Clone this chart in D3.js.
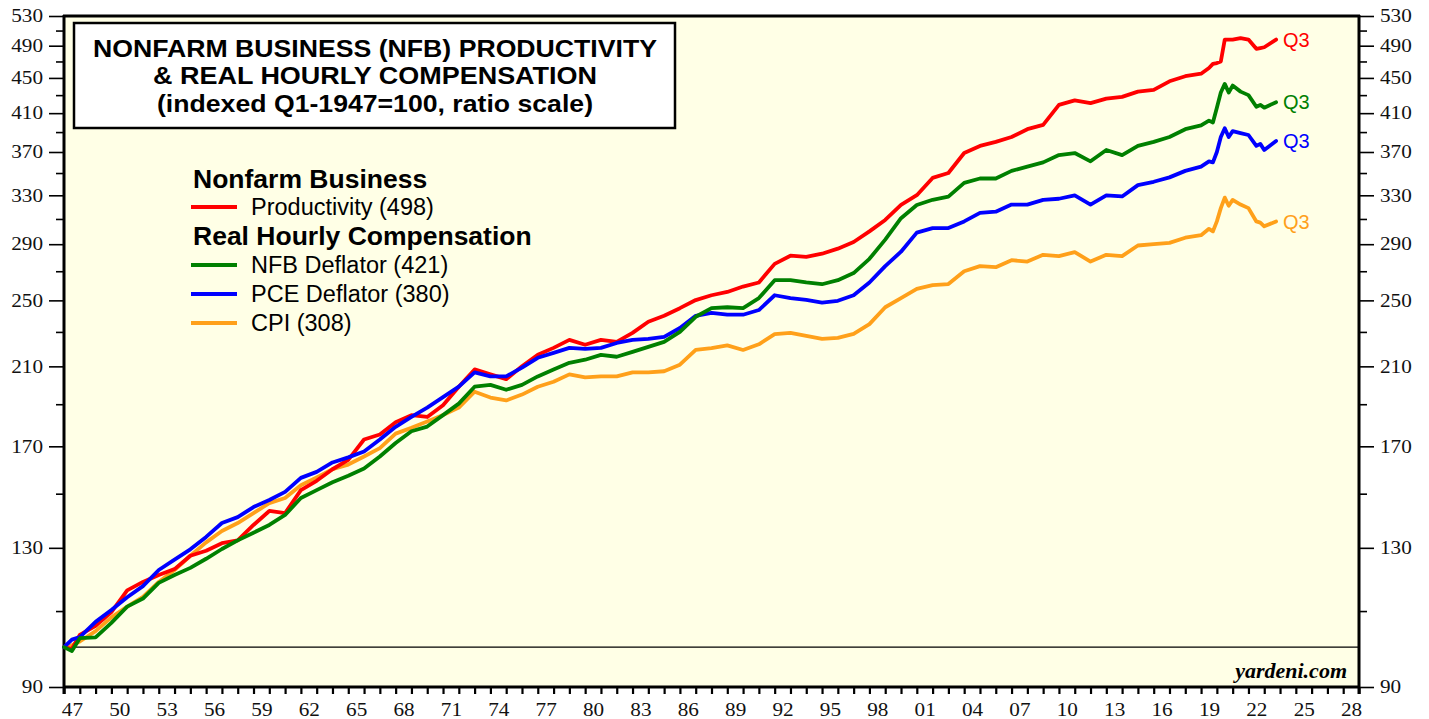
<!DOCTYPE html>
<html><head><meta charset="utf-8">
<script src="https://cdn.jsdelivr.net/npm/d3@7"></script>
<style>body{margin:0;background:#fff}</style>
</head><body><svg id="c" width="1429" height="719"></svg>
<script>
const times = [1947,1947.5,1948,1949,1950,1951,1952,1953,1954,1955,1956,1957,1958,1959,1960,1961,1962,1963,1964,1965,1966,1967,1968,1969,1970,1971,1972,1973,1974,1975,1976,1977,1978,1979,1980,1981,1982,1983,1984,1985,1986,1987,1988,1989,1990,1991,1992,1993,1994,1995,1996,1997,1998,1999,2000,2001,2002,2003,2004,2005,2006,2007,2008,2009,2010,2011,2012,2013,2014,2015,2016,2017,2018,2019,2019.5,2019.75,2020,2020.25,2020.5,2020.75,2021,2021.5,2022,2022.5,2022.75,2023,2023.75];
const productivity = [100,99.5,103.3,105.8,109.7,116.2,118.8,121.0,122.9,127.3,129.0,131.6,132.6,138.1,143.3,142.5,151.4,155.2,160.0,164.0,173.1,175.4,181.2,184.6,183.7,189.5,199.0,208.3,205.6,203.0,210.0,216.5,220.5,225.2,222.3,225.2,224.0,229.4,236.3,240.0,244.9,250.2,253.4,255.6,259.3,262.1,275.3,281.3,280.4,282.8,286.6,291.7,300,309.2,321.7,330.1,345.5,350,369,376,380,385,393,397.5,419,424,421,426,428,434,436,446,452,455,462,467,468,470,498,498,498,500,498,486,487,488,498];
const nfbDeflator = [100,99,102.4,102.6,106.6,111.3,113.7,118.5,121.0,123.3,126.3,129.6,132.6,135.3,138.1,141.8,148.3,151.4,154.6,157.3,160.3,165.5,171.5,176.9,179.1,184.6,190.3,199.0,200.0,197.4,200.0,204.5,208.3,212.0,213.7,216.5,215.4,218.2,221.1,224.0,230.0,239.4,244.9,245.5,244.9,251.5,263.7,263.7,262.1,260.9,263.7,268.7,279.0,293.5,310.6,321.7,326.1,328.8,341,345,345,352,356,360,367,369,361,372,367,376,380,385,393,397,402,400,416,433,443,433,441,434,430,417,419,416,422];
const pceDeflator = [100,102,102.7,106.9,110.3,114.1,117.5,122.6,126.0,129.5,133.8,138.8,141.0,144.8,147.5,150.7,156.4,158.9,162.9,165.1,167.7,173.1,179.0,183.7,188.3,193.6,199.0,206.7,204.5,204.5,209.3,214.8,217.6,220.5,219.9,220.5,223.4,225.2,225.8,227.0,232.4,240.0,241.9,240.7,240.7,243.7,253.4,251.5,250.3,248.5,249.7,253.4,262.1,273.7,284.3,299.0,302.6,302.6,308,315,316,322,322,326,327,330,322,330,329,339,342,346,352,356,361,360,370,385,394,385,391,389,387,376,378,372,381];
const cpi = [100,100.5,101.5,104.3,108.2,111.3,114.2,118.8,122.6,127.3,131.9,135.9,138.8,142.5,146.3,148.3,153.4,156.6,160.0,162.0,165.5,169.2,175.8,178.5,181.5,184.6,188.3,196.4,193.4,191.9,194.9,199.0,201.6,205.6,204.0,204.5,204.5,206.7,206.7,207.3,210.9,219.3,220.4,222.0,219.3,222.6,228.7,229.4,227.6,225.8,226.4,228.8,234.8,245.5,251.5,257.7,260.3,261.0,270,273.7,272.9,278,277,282,281,284,277,282,281,289,290,291,295,297,302,300,308,319,328,321,326,322,319,308,307,304,308];

const seriesNames = ["CPI (308)","Productivity (498)","PCE Deflator (380)","NFB Deflator (421)"];
const yMajorTicks = [90,130,170,210,250,290,330,370,410,450,490,530];
const yMinorTicks = [110,150,190,230,270,310,350,390,430,470,510];
const xLabelYears = [1947,1950,1953,1956,1959,1962,1965,1968,1971,1974,1977,1980,1983,1986,1989,1992,1995,1998,2001,2004,2007,2010,2013,2016,2019,2022,2025,2028];
const xLabels = ["47","50","53","56","59","62","65","68","71","74","77","80","83","86","89","92","95","98","01","04","07","10","13","16","19","22","25","28"];
const titleLines = ["NONFARM BUSINESS (NFB) PRODUCTIVITY","& REAL HOURLY COMPENSATION","(indexed Q1-1947=100, ratio scale)"];
const titleWidths = [564,444,436];

const svg = d3.select("#c");
const L=64, R=1359, T=16, B=687;
const x = d3.scaleLinear().domain([1947,2029]).range([L,R]);
const y = d3.scaleLog().domain([90,530]).range([B,T]);
const serif = "'Liberation Serif','Times New Roman',serif";
const sans = "'Liberation Sans',Arial,Helvetica,sans-serif";

svg.append("rect").attr("x",L).attr("y",T).attr("width",R-L).attr("height",B-T).attr("fill","#ffffe6");

// axes
function styleAxis(g){
  g.select(".domain").remove();
  g.selectAll("line").attr("stroke","#000").attr("stroke-width",1.6);
  g.selectAll("text").attr("font-family",serif).attr("font-size",18).attr("fill","#111")
    .attr("textLength",function(){return this.textContent.length*10.6;}).attr("lengthAdjust","spacingAndGlyphs");
}
svg.append("g").attr("transform",`translate(${L},0)`).call(d3.axisLeft(y).tickValues(yMajorTicks).tickSize(15).tickPadding(6).tickFormat(d3.format("d"))).call(styleAxis);
svg.append("g").attr("transform",`translate(${L},0)`).call(d3.axisLeft(y).tickValues(yMinorTicks).tickSize(8).tickFormat("")).call(styleAxis);
svg.append("g").attr("transform",`translate(${R},0)`).call(d3.axisRight(y).tickValues(yMajorTicks).tickSize(15).tickPadding(6).tickFormat(d3.format("d"))).call(styleAxis);
svg.append("g").attr("transform",`translate(${R},0)`).call(d3.axisRight(y).tickValues(yMinorTicks).tickSize(8).tickFormat("")).call(styleAxis);
svg.append("g").attr("transform",`translate(0,${B})`).call(d3.axisBottom(x).tickValues(d3.range(1947,2030)).tickSize(7).tickFormat("")).call(styleAxis).selectAll("line").attr("stroke-width",2.2);
svg.append("g").attr("transform",`translate(0,${B})`).call(d3.axisBottom(x).tickValues(xLabelYears.map(v=>v+0.5)).tickSize(0).tickPadding(16).tickFormat((d,i)=>xLabels[i])).call(styleAxis);

// frame
svg.append("line").attr("x1",L-1).attr("x2",R+1).attr("y1",T).attr("y2",T).attr("stroke","#000").attr("stroke-width",3);
svg.append("line").attr("x1",L-1).attr("x2",R+1).attr("y1",B).attr("y2",B).attr("stroke","#000").attr("stroke-width",3);
svg.append("line").attr("x1",L).attr("x2",L).attr("y1",T-1).attr("y2",B+7).attr("stroke","#000").attr("stroke-width",3);
svg.append("line").attr("x1",R).attr("x2",R).attr("y1",T-1).attr("y2",B+7).attr("stroke","#000").attr("stroke-width",3);

// reference line at 100
svg.append("line").attr("x1",L).attr("x2",R).attr("y1",y(100)).attr("y2",y(100)).attr("stroke","#000").attr("stroke-width",1.2);

// series
const series = [
  {name:seriesNames[0], vals:cpi, color:"#ffa01a"},
  {name:seriesNames[1], vals:productivity, color:"#ff0000"},
  {name:seriesNames[2], vals:pceDeflator, color:"#0000ff"},
  {name:seriesNames[3], vals:nfbDeflator, color:"#008000"}
];
const line = d3.line().x(d=>x(d[0])).y(d=>y(d[1]));
series.forEach(s=>{
  const pts = times.map((t,i)=>[t,s.vals[i]]);
  svg.append("path").attr("d",line(pts)).attr("fill","none").attr("stroke",s.color).attr("stroke-width",3.8).attr("stroke-linejoin","round").attr("stroke-linecap","round");
  svg.append("text").attr("x",1283).attr("y",y(s.vals[s.vals.length-1])).attr("dy","0.36em").attr("font-family",sans).attr("font-size",20).attr("fill",s.color).text("Q3");
});

// title box
svg.append("rect").attr("x",74).attr("y",23).attr("width",601).attr("height",105).attr("fill","#fff").attr("stroke","#000").attr("stroke-width",2.5);
titleLines.forEach((t,i)=>{
  svg.append("text").attr("x",375).attr("y",56.5+i*27.7).attr("text-anchor","middle").attr("font-family",sans).attr("font-weight","bold").attr("font-size",24)
    .attr("textLength",titleWidths[i]).attr("lengthAdjust","spacingAndGlyphs").attr("fill","#000").text(t);
});

// legend
const lg = svg.append("g");
const legendRows = [
  {type:"head", text:"Nonfarm Business", y:188},
  {type:"item", text:seriesNames[1], color:"#ff0000", y:207},
  {type:"head", text:"Real Hourly Compensation", y:245},
  {type:"item", text:seriesNames[3], color:"#008000", y:265},
  {type:"item", text:seriesNames[2], color:"#0000ff", y:294},
  {type:"item", text:seriesNames[0], color:"#ffa01a", y:323}
];
legendRows.forEach(r=>{
  if(r.type==="head"){
    lg.append("text").attr("x",193).attr("y",r.y).attr("font-family",sans).attr("font-weight","bold").attr("font-size",26.5).attr("fill","#000").text(r.text);
  } else {
    lg.append("line").attr("x1",191).attr("x2",237).attr("y1",r.y).attr("y2",r.y).attr("stroke",r.color).attr("stroke-width",4);
    lg.append("text").attr("x",251).attr("y",r.y).attr("dy","0.36em").attr("font-family",sans).attr("font-size",23.5).attr("fill","#000").text(r.text);
  }
});

svg.append("text").attr("x",1347).attr("y",678).attr("text-anchor","end").attr("font-family",serif).attr("font-weight","bold").attr("font-style","italic").attr("font-size",22).attr("fill","#000").text("yardeni.com");
</script></body></html>
